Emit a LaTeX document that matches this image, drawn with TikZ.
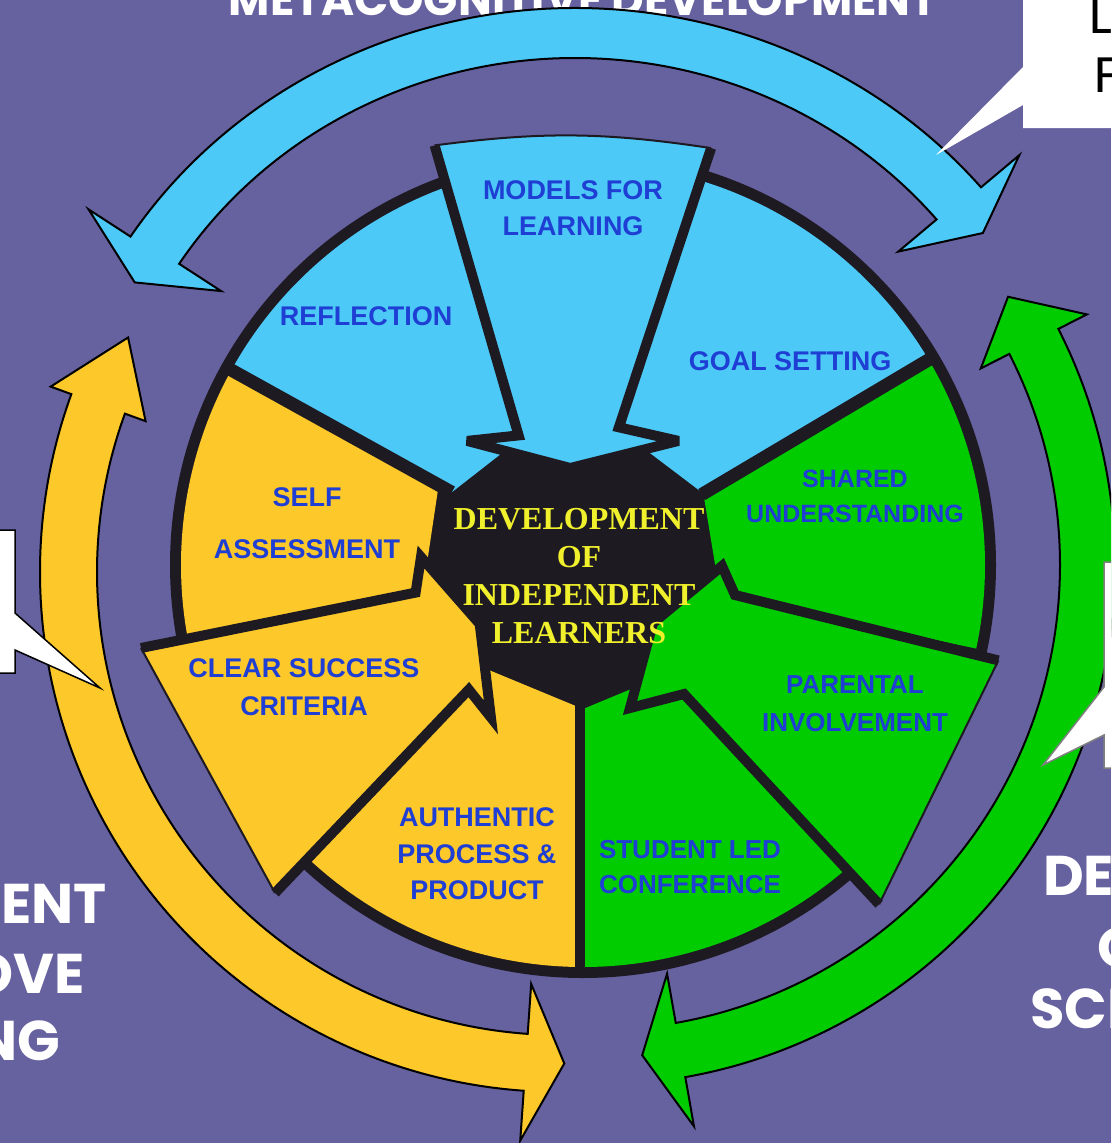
\documentclass[tikz,border=0pt]{standalone}
\usepackage{fontspec}
\setmainfont{Liberation Sans}
\newfontfamily\labf{Liberation Sans}
\newfontfamily\serf{Liberation Serif}
\newfontfamily\comicf{Poppins}
\newfontfamily\calf{Carlito}
\usetikzlibrary{calc}
\definecolor{bg}{HTML}{66619F}
\definecolor{skyb}{HTML}{4CC9F7}
\definecolor{yel}{HTML}{FDC82A}
\definecolor{grn}{HTML}{00CC00}
\definecolor{blk}{HTML}{1E1A22}
\definecolor{lblue}{HTML}{1F3FD4}
\definecolor{ctxt}{HTML}{F0F02C}
\tikzset{
  arrowline/.style={draw=blk, line width=10pt, line join=miter, miter limit=4},
  thinedge/.style={draw=blk, line width=2pt},
  bandline/.style={draw=black, line width=2pt, line join=miter},
  gapline/.style={draw=blk, line width=13pt},
  lab/.style={text=lblue, font=\labf\bfseries\fontsize{27}{36}\selectfont, align=center, inner sep=0pt},
  ctr/.style={text=ctxt, font=\serf\bfseries\fontsize{32}{38}\selectfont, align=center, inner sep=0pt},
  wcap/.style={text=white, font=\comicf\bfseries\fontsize{56}{56}\selectfont, inner sep=0pt},
  callout/.style={fill=white, line width=1.5pt, line join=miter},
}
% plain sector: a1 a2 rin rout colour
\newcommand{\psect}[5]{%
  \fill[#5] ($(C)+(#1:#4pt)$) arc[start angle=#1, end angle=#2, radius=#4pt]
    -- ($(C)+(#2:#3pt)$) -- ($(C)+(#1:#3pt)$) -- cycle;}
% double headed band around (B)
\newcommand{\dband}[1]{%
  \pgfmathsetmacro\rmx{(\rix+\rox)/2}\pgfmathsetmacro\rmy{(\riy+\roy)/2}%
  \pgfmathsetmacro\biax{\rix-\bxa}\pgfmathsetmacro\biay{\riy-\bxa}%
  \pgfmathsetmacro\boax{\rox+\bxa}\pgfmathsetmacro\boay{\roy+\bxa}%
  \pgfmathsetmacro\bibx{\rix-\bxb}\pgfmathsetmacro\biby{\riy-\bxb}%
  \pgfmathsetmacro\bobx{\rox+\bxb}\pgfmathsetmacro\boby{\roy+\bxb}%
  \pgfmathsetmacro\tpa{\ta-\hda}\pgfmathsetmacro\tpb{\tb+\hdb}%
  \filldraw[bandline, fill=#1]
    ($(B)+(\ta:\rox pt and \roy pt)$) arc[start angle=\ta, end angle=\tb, x radius=\rox pt, y radius=\roy pt]
    -- ($(B)+(\tb:\bobx pt and \boby pt)$) -- ($(B)+(\tpb:\rmx pt and \rmy pt)$)
    -- ($(B)+(\tb:\bibx pt and \biby pt)$) -- ($(B)+(\tb:\rix pt and \riy pt)$)
    arc[start angle=\tb, end angle=\ta, x radius=\rix pt, y radius=\riy pt]
    -- ($(B)+(\ta:\biax pt and \biay pt)$) -- ($(B)+(\tpa:\rmx pt and \rmy pt)$)
    -- ($(B)+(\ta:\boax pt and \boay pt)$) -- cycle;}
\begin{document}
\begin{tikzpicture}[x=1pt,y=1pt]
\useasboundingbox (0,0) rectangle (1111,-1143);
\clip (0,0) rectangle (1111,-1143);
\fill[bg] (0,0) rectangle (1111,-1143);

% title (cut by top edge)
\node[wcap, font=\comicf\bfseries\fontsize{45}{45}\selectfont, anchor=base] (title) at (583,-15) {METACOGNITIVE DEVELOPMENT};

% blue band
\coordinate (B) at (575,-510);
\def\rix{472}\def\riy{452}\def\rox{530}\def\roy{502}
\def\ta{40}\def\tb{147}\def\hda{4.5}\def\hdb{4.5}\def\bxa{50}\def\bxb{50}
\dband{skyb}
% yellow band
\coordinate (B) at (560,-572);
\def\rix{463}\def\riy{463}\def\rox{520}\def\roy{520}
\def\ta{160}\def\tb{266}\def\hda{8.5}\def\hdb{4.5}\def\bxa{22}\def\bxb{50}
\dband{yel}
% green band
\coordinate (B) at (595,-565);
\def\rix{465}\def\riy{465}\def\rox{520}\def\roy{520}
\def\ta{-80}\def\tb{27}\def\hda{4.5}\def\hdb{6}\def\bxa{50}\def\bxb{32}
\dband{grn}

% wheel
\coordinate (C) at (583,-565);
\fill[blk] (C) circle[radius=413pt];
\psect{151}{105}{150}{402}{skyb}
\psect{75}{30.7}{140}{402}{skyb}
\psect{30.7}{-12}{140}{402}{grn}
\psect{-45}{-90}{144}{402}{grn}
\psect{-90}{-135}{144}{402}{yel}
\psect{192}{151}{165}{402}{yel}
\draw[gapline] ($(C)+(151:150pt)$) -- ($(C)+(151:405pt)$);
\draw[gapline] ($(C)+(30.7:138pt)$) -- ($(C)+(30.7:405pt)$);
\draw[line width=10pt, blk] (580,-700) -- (580,-972);

% big arrows
\fill[skyb] (434.6,-145.4) to[bend left=8] (711.1,-148.1) -- (618.9,-427.3) -- (678.5,-440.9)
  -- (570.1,-468) -- (467.1,-440.9) -- (518.6,-435.4) -- cycle;
\draw[arrowline] (711.1,-148.1) -- (618.9,-427.3) -- (678.5,-440.9)
  -- (570.1,-468) -- (467.1,-440.9) -- (518.6,-435.4) -- (434.6,-145.4);
\draw[thinedge] (434.6,-145.4) to[bend left=8] (711.1,-148.1);

\fill[grn] (998.4,-660.4) -- (879.1,-904.3) -- (684,-694) -- (630,-708) -- (653,-623)
  -- (722,-566) -- (735,-595) -- cycle;
\draw[arrowline] (879.1,-904.3) -- (684,-694) -- (630,-708) -- (653,-623)
  -- (722,-566) -- (735,-595) -- (998.4,-660.4);
\draw[thinedge] (998.4,-660.4) -- (879.1,-904.3);

\fill[yel] (141,-648) -- (415.6,-592.6) -- (421,-557) -- (479.7,-624) -- (490.9,-717.4)
  -- (468.8,-689.6) -- (275,-893) -- cycle;
\draw[arrowline] (141,-648) -- (415.6,-592.6) -- (421,-557) -- (479.7,-624) -- (490.9,-717.4)
  -- (468.8,-689.6) -- (275,-893);
\draw[thinedge] (275,-893) -- (141,-648);

% labels
\node[lab] (models) at (573,-208) {MODELS FOR\\LEARNING};
\node[lab] (refl) at (366,-316) {REFLECTION};
\node[lab] (goal) at (790,-361) {GOAL SETTING};
\node[lab, font=\labf\bfseries\fontsize{25}{35}\selectfont] (shared) at (855,-496) {SHARED\\UNDERSTANDING};
\node[lab, font=\labf\bfseries\fontsize{26}{38}\selectfont] (parent) at (855,-704) {PARENTAL\\INVOLVEMENT};
\node[lab, font=\labf\bfseries\fontsize{26}{35}\selectfont] (student) at (690,-867) {STUDENT LED\\CONFERENCE};
\node[lab, font=\labf\bfseries\fontsize{27}{36.5}\selectfont] (auth) at (477,-854) {AUTHENTIC\\PROCESS \&\\PRODUCT};
\node[lab, font=\labf\bfseries\fontsize{27}{38}\selectfont] (clear) at (304,-687) {CLEAR SUCCESS\\CRITERIA};
\node[lab, font=\labf\bfseries\fontsize{27}{52}\selectfont] (self) at (307,-523) {SELF\\ASSESSMENT};

\node[ctr] (centre) at (579,-576) {DEVELOPMENT\\OF\\INDEPENDENT\\LEARNERS};

% callouts
\filldraw[callout, draw=none] (1023,0) -- (1023,-67) -- (936,-155) -- (1023,-105) -- (1023,-128) -- (1111,-128) -- (1111,0) -- cycle;
\node[font=\calf\fontsize{54}{54}\selectfont, anchor=base west, inner sep=0pt] (tl1) at (1089,-33) {L};
\node[font=\calf\fontsize{54}{54}\selectfont, anchor=base west, inner sep=0pt] (tl2) at (1094,-92) {F};
\filldraw[callout, draw=black] (-2,-530) -- (15,-530) -- (15,-613) -- (100,-688) -- (15,-650) -- (15,-673) -- (-2,-673);
\filldraw[callout, draw=gray] (1113,-562) -- (1104,-562) -- (1104,-687) -- (1043,-765) -- (1104,-735) -- (1104,-768) -- (1113,-768);

% side captions
\node[wcap, anchor=base east] (l1) at (107,-923) {ENT};
\node[wcap, anchor=base east] (l2) at (85,-993) {OVE};
\node[wcap, anchor=base east] (l3) at (60,-1060) {NG};
\node[wcap, anchor=base west] (r1) at (1043,-895) {DEV};
\node[wcap, anchor=base west] (r2) at (1097,-967) {O};
\node[wcap, anchor=base west] (r3) at (1030,-1028) {SCH};
\end{tikzpicture}
\end{document}
